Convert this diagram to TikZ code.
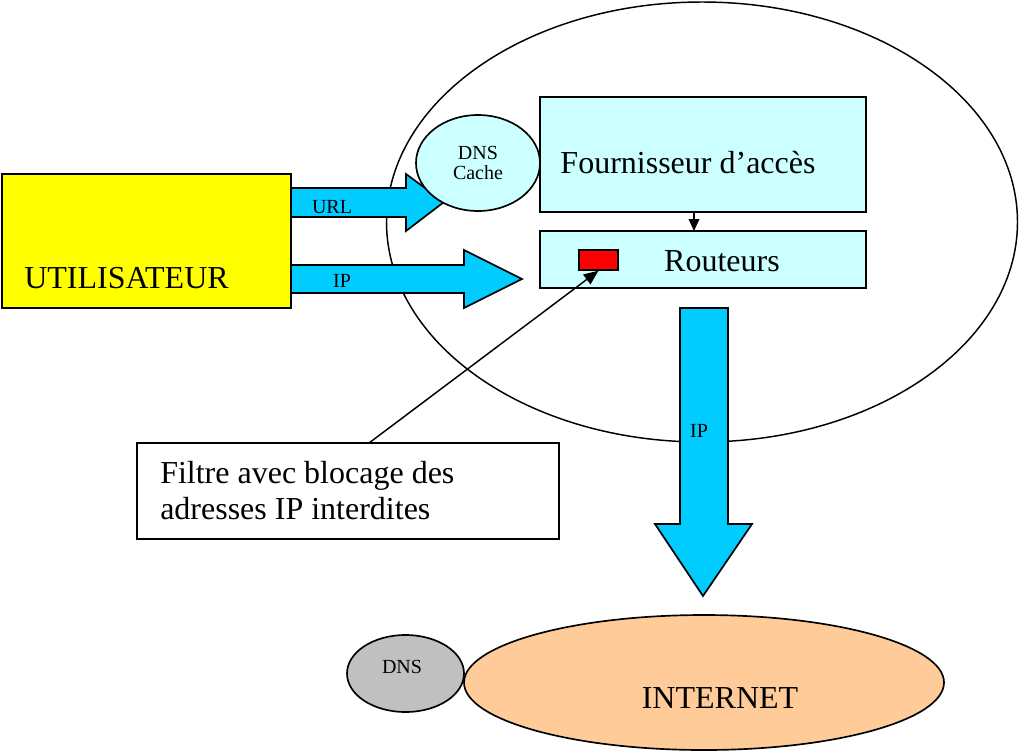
\documentclass[tikz,border=0pt]{standalone}
\usepackage{fontspec}
\setmainfont{Liberation Serif}
\usetikzlibrary{shapes.geometric,arrows.meta}
\definecolor{arrowcyan}{HTML}{00CCFF}
\definecolor{lightcyan}{HTML}{CCFFFF}
\definecolor{useryellow}{HTML}{FFFF00}
\definecolor{peach}{HTML}{FFCC99}
\definecolor{dnsgray}{HTML}{C0C0C0}
\tikzset{
  outline/.style={draw=black, line width=1.25pt},
  bigtext/.style={font=\fontsize{24}{27}\selectfont},
  smalltext/.style={font=\fontsize{15}{17}\selectfont},
  blockarrow/.style={outline, fill=arrowcyan, line join=miter},
  boxnode/.style={outline, rectangle, inner sep=0pt},
}
\begin{document}
\begin{tikzpicture}[x=0.75pt, y=-0.75pt]
\useasboundingbox (0,0) rectangle (1021,751);
% big provider ellipse
\node[draw=black, line width=1.1pt, ellipse, minimum width=631*0.75pt, minimum height=440*0.75pt, inner sep=0pt] (isp) at (702,222) {};
% user box
\node[boxnode, fill=useryellow, minimum width=289*0.75pt, minimum height=134*0.75pt] (user) at (146.5,241) {};
\node[bigtext, anchor=base west, inner sep=0pt] (usertext) at (24,288) {UTILISATEUR};
% URL block arrow
\draw[blockarrow] (291,188) -- (406,188) -- (406,174) -- (444,202) -- (406,231) -- (406,217) -- (291,217) -- cycle;
\node[smalltext, inner sep=0pt, anchor=base] (urllabel) at (332,213) {URL};
% IP block arrow
\draw[blockarrow] (291,265) -- (464,265) -- (464,250) -- (522,279) -- (464,308) -- (464,293) -- (291,293) -- cycle;
\node[smalltext, inner sep=0pt, anchor=base] (iplabel) at (342,287) {IP};
% DNS cache
\node[outline, ellipse, fill=lightcyan, minimum width=124*0.75pt, minimum height=96*0.75pt, inner sep=0pt, align=center, smalltext] (cache) at (478,163) {DNS\\[-2pt]Cache};
% provider box
\node[boxnode, fill=lightcyan, minimum width=326*0.75pt, minimum height=115*0.75pt] (fai) at (703,154.5) {};
\node[bigtext, inner sep=0pt, anchor=base] (faitext) at (688,173) {Fournisseur d’accès};
% routers box
\node[boxnode, fill=lightcyan, minimum width=326*0.75pt, minimum height=57*0.75pt] (routers) at (703,259.5) {};
\node[bigtext, inner sep=0pt, anchor=base] (routerstext) at (722,271) {Routeurs};
\node[outline, line width=1pt, rectangle, fill=red, minimum width=39*0.75pt, minimum height=20*0.75pt, inner sep=0pt] (filterbox) at (598.5,260) {};
\coordinate (faibot) at (694,212);
\coordinate (routtop) at (694,231);
\draw[line width=1.1pt, -{Triangle[length=9pt,width=8pt]}] (faibot) -- (routtop);
% down IP arrow
\draw[blockarrow] (680,308) -- (728,308) -- (728,524) -- (752,524) -- (703,596) -- (655,524) -- (680,524) -- cycle;
\node[smalltext, inner sep=0pt, anchor=base] (iplabel2) at (699,437) {IP};
% filter note
\node[boxnode, fill=white, minimum width=422*0.75pt, minimum height=96*0.75pt] (note) at (348,491) {};
\node[bigtext, inner sep=0pt, anchor=base west] (note1) at (160,483) {Filtre avec blocage des};
\node[bigtext, inner sep=0pt, anchor=base west] (note2) at (160,519) {adresses IP interdites};
\coordinate (notetop) at (369,443);
\draw[line width=1.1pt, -{Triangle[length=11pt,width=9pt]}] (notetop) -- (filterbox.south);
% internet
\node[outline, ellipse, fill=peach, minimum width=480*0.75pt, minimum height=135*0.75pt, inner sep=0pt] (internet) at (704,682.5) {};
\node[bigtext, inner sep=0pt, anchor=base] (inettext) at (720,708) {INTERNET};
\node[outline, ellipse, fill=dnsgray, minimum width=117*0.75pt, minimum height=77*0.75pt, inner sep=0pt] (dns) at (405.5,673.5) {};
\node[smalltext, inner sep=0pt, anchor=base] (dnstext) at (402,673) {DNS};
\end{tikzpicture}
\end{document}
